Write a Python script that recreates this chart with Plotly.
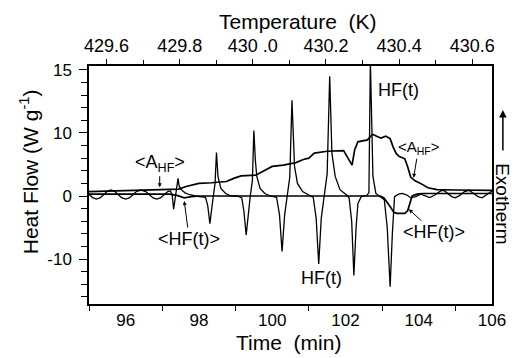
import plotly.graph_objects as go

# ---- HF(t): modulated heat flow (min, W/g) ----
time_hf = [95.00, 95.10, 95.20, 95.30, 95.40, 95.50, 95.60, 95.70, 95.80, 95.90,
           96.00, 96.10, 96.20, 96.30, 96.42, 96.55, 96.65, 96.75, 96.85, 96.95,
           97.05, 97.15, 97.22, 97.27, 97.31, 97.37, 97.41, 97.43, 97.46, 97.52,
           97.62, 97.75, 97.90, 98.05, 98.18, 98.24, 98.30, 98.36, 98.40, 98.44,
           98.48, 98.52, 98.60, 98.73, 98.88, 99.05, 99.17, 99.23, 99.29, 99.35,
           99.40, 99.46, 99.50, 99.54, 99.58, 99.67, 99.80, 99.95, 100.12, 100.20,
           100.27, 100.34, 100.40, 100.48, 100.54, 100.58, 100.61, 100.69, 100.83, 101.00,
           101.12, 101.20, 101.27, 101.34, 101.42, 101.50, 101.57, 101.60, 101.63, 101.72,
           101.85, 102.03, 102.10, 102.17, 102.23, 102.29, 102.34, 102.43, 102.58, 102.64,
           102.68, 102.72, 102.75, 102.83, 102.93, 103.06, 103.14, 103.22, 103.28, 103.34,
           103.45, 103.55, 103.68, 103.78, 103.92, 104.05, 104.15, 104.30, 104.45, 104.60,
           104.68, 104.80, 104.90, 105.00, 105.12, 105.25, 105.37, 105.50, 105.62, 105.73,
           105.85, 106.00]
hf = [0.25, -0.25, -0.5, -0.3, 0.2, 0.75, 0.95, 0.75, 0.2, -0.3,
      -0.5, -0.3, 0.2, 0.75, 0.95, 0.7, 0.2, -0.3, -0.5, -0.3,
      0.2, 0.7, 0.8, 0.2, -2.1, 0.0, 1.5, 2.8, 1.6, 1.0,
      0.5, 0.2, 0.0, -0.1, -0.2, -1.5, -4.4, -1.5, 0.0, 2.0,
      6.9, 3.1, 1.2, 0.4, 0.0, 0.0, -0.3, -2.5, -6.2, -2.5,
      -0.1, 2.5, 10.4, 5.7, 3.1, 1.2, 0.4, 0.0, -0.2, -3.0,
      -8.8, -3.0, -0.1, 3.0, 15.2, 9.4, 4.7, 2.0, 0.7, 0.15,
      -0.2, -3.5, -10.8, -3.5, -0.1, 3.5, 19.0, 12.6, 6.8, 3.1,
      1.0, 0.15, -0.3, -4.0, -12.6, -5.0, -1.2, -0.1, 0.1, 0.5,
      21.5, 11.0, 3.1, 0.4, -0.1, -0.6, -5.0, -14.4, -6.0, -0.1,
      0.3, 0.4, 0.15, -0.3, -0.1, 0.3, 0.1, -0.25, 0.2, 0.8,
      0.9, 0.4, -0.1, -0.3, 0.1, 0.7, 0.9, 0.4, -0.1, -0.3,
      0.2, 0.8]

# ---- <HF(t)>: averaged heat flow ----
time_avg = [95.0, 97.2, 97.4, 97.6, 97.8, 98.0, 102.95, 103.05, 103.2, 103.32,
            103.4, 103.62, 103.7, 103.76, 103.82, 103.95, 104.1, 106.0]
hf_avg = [0.3, 0.3, 0.1, -0.3, -0.1, 0.0, 0.0, -0.3, -1.5, -2.6,
          -2.75, -2.75, -2.3, -1.0, 0.0, 0.3, 0.4, 0.4]

# ---- <A_HF>: heat-flow amplitude ----
time_amp = [95.0, 96.0, 96.9, 97.45, 97.65, 97.85, 98.0, 98.35, 98.75, 98.95,
            99.15, 99.55, 99.75, 100.0, 100.3, 100.65, 100.85, 101.0, 101.15, 101.5,
            101.95, 102.03, 102.1, 102.18, 102.25, 102.34, 102.6, 102.74, 102.88, 102.97,
            103.1, 103.22, 103.3, 103.38, 103.46, 103.62, 103.7, 103.78, 103.9, 104.05,
            104.25, 104.5, 105.0, 106.0]
amp = [0.7, 0.85, 1.0, 1.1, 1.5, 1.8, 2.0, 2.1, 2.3, 2.8,
       3.2, 3.3, 3.9, 4.7, 4.9, 5.3, 5.8, 6.0, 6.8, 7.1,
       7.2, 6.4, 5.5, 4.9, 7.3, 8.6, 8.9, 9.8, 9.4, 9.2,
       9.5, 9.1, 7.8, 6.8, 6.3, 5.9, 4.6, 3.0, 2.4, 2.0,
       1.3, 1.0, 0.95, 0.9]

# ---- axes ----
time_range = [95.0, 106.0]
time_ticks = [96, 98, 100, 102, 104, 106]
temp_range = [429.552, 430.654]
temp_ticks = [429.6, 429.8, 430.0, 430.2, 430.4, 430.6]
temp_labels = ["429.6", "429.8", "430 .0", "430.2", "430.4", "430.6"]
y_range = [-17.14, 20.63]
y_ticks = [-10, 0, 10, 20]
y_labels = ["-10", "0", "10", "15"]

FONT = "Liberation Sans, Arial, sans-serif"
BLACK = "#000000"

fig = go.Figure()
fig.add_trace(go.Scatter(x=time_hf, y=hf, mode="lines", name="HF(t)",
                         line=dict(color=BLACK, width=1.3), showlegend=False))
fig.add_trace(go.Scatter(x=time_avg, y=hf_avg, mode="lines", name="<HF(t)>",
                         line=dict(color=BLACK, width=1.7), showlegend=False))
fig.add_trace(go.Scatter(x=time_amp, y=amp, mode="lines", name="<A_HF>",
                         line=dict(color=BLACK, width=1.7), showlegend=False))
# empty trace to activate the top temperature axis
fig.add_trace(go.Scatter(x=[], y=[], xaxis="x2", yaxis="y", showlegend=False,
                         hoverinfo="skip"))

fig.update_layout(
    width=518, height=358,
    margin=dict(l=89, r=18, t=66, b=54),
    paper_bgcolor="white", plot_bgcolor="white",
    font=dict(family=FONT, color=BLACK, size=17),
    showlegend=False,
    xaxis=dict(range=time_range, tickvals=time_ticks,
               ticktext=[str(v) for v in time_ticks],
               ticks="", ticklabelstandoff=0,
               minor=dict(ticks="outside", ticklen=5, tick0=95, dtick=2,
                          tickcolor=BLACK, tickwidth=1.3),
               showline=True, linecolor=BLACK, linewidth=1.5, mirror=False,
               showgrid=False, zeroline=False,
               tickfont=dict(size=17, family=FONT)),
    xaxis2=dict(range=temp_range, overlaying="x", side="top", anchor="y",
                tickvals=temp_ticks, ticktext=temp_labels,
                ticks="outside", ticklen=5, tickcolor=BLACK, tickwidth=1.3,
                minor=dict(ticks="outside", ticklen=4, dtick=0.1, tick0=429.6,
                           tickcolor=BLACK, tickwidth=1.3),
                showline=True, linecolor=BLACK, linewidth=1.5,
                showgrid=False, zeroline=False,
                tickfont=dict(size=18, family=FONT)),
    yaxis=dict(range=y_range, tickvals=y_ticks, ticktext=y_labels,
               ticks="outside", ticklen=8, tickcolor=BLACK, tickwidth=1.3,
               ticklabelstandoff=4,
               minor=dict(ticks="outside", ticklen=6, dtick=2, tick0=0,
                          tickcolor=BLACK, tickwidth=1.3),
               showline=True, linecolor=BLACK, linewidth=1.5, mirror=True,
               showgrid=False, zeroline=False,
               tickfont=dict(size=17, family=FONT)),
)

ann_font = dict(family=FONT, size=18, color=BLACK)
annotations = [
    # axis titles
    dict(text="Time  (min)", xref="paper", yref="paper", x=0.496, y=-0.16,
         showarrow=False, font=dict(family=FONT, size=21, color=BLACK),
         xanchor="center", yanchor="middle"),
    dict(text="Temperature  (K)", xref="paper", yref="paper", x=0.518, y=1.185,
         showarrow=False, font=dict(family=FONT, size=21, color=BLACK),
         xanchor="center", yanchor="middle"),
    dict(text="Heat Flow (W g<sup>-1</sup>)", xref="paper", yref="paper",
         x=-0.148, y=0.555, textangle=-90, showarrow=False,
         font=dict(family=FONT, size=21, color=BLACK),
         xanchor="center", yanchor="middle"),
    # curve labels
    dict(text="HF(t)", x=103.46, y=16.8, showarrow=False, font=ann_font),
    dict(text="HF(t)", x=101.34, y=-13.0, showarrow=False, font=ann_font),
    dict(text="&lt;A<sub>HF</sub>&gt;", x=96.93, y=1.4, ax=0, ay=-24,
         showarrow=True, arrowhead=2, arrowsize=0.8, arrowwidth=1,
         arrowcolor=BLACK, font=ann_font),
    dict(text="&lt;HF(t)&gt;", x=97.6, y=-0.8, ax=5, ay=38,
         showarrow=True, arrowhead=2, arrowsize=0.8, arrowwidth=1,
         arrowcolor=BLACK, font=ann_font),
    dict(text="&lt;A<sub>HF</sub>&gt;", x=103.86, y=2.9, ax=5, ay=-30,
         showarrow=True, arrowhead=2, arrowsize=0.8, arrowwidth=1,
         arrowcolor=BLACK, font=dict(family=FONT, size=15, color=BLACK)),
    dict(text="&lt;HF(t)&gt;", x=103.73, y=-2.1, ax=25, ay=23,
         showarrow=True, arrowhead=2, arrowsize=0.8, arrowwidth=1,
         arrowcolor=BLACK, font=ann_font),
    # exotherm indicator
    dict(text="Exotherm", xref="paper", yref="paper", x=1.027, y=0.42,
         textangle=90, showarrow=False, font=dict(family=FONT, size=19, color=BLACK),
         xanchor="center", yanchor="middle"),
    dict(text="", xref="paper", yref="paper", x=1.027, y=0.815, ax=0, ay=42,
         showarrow=True, arrowhead=2, arrowsize=1, arrowwidth=1.5,
         arrowcolor=BLACK),
]
fig.update_layout(annotations=annotations)

fig.write_html("out.html")
